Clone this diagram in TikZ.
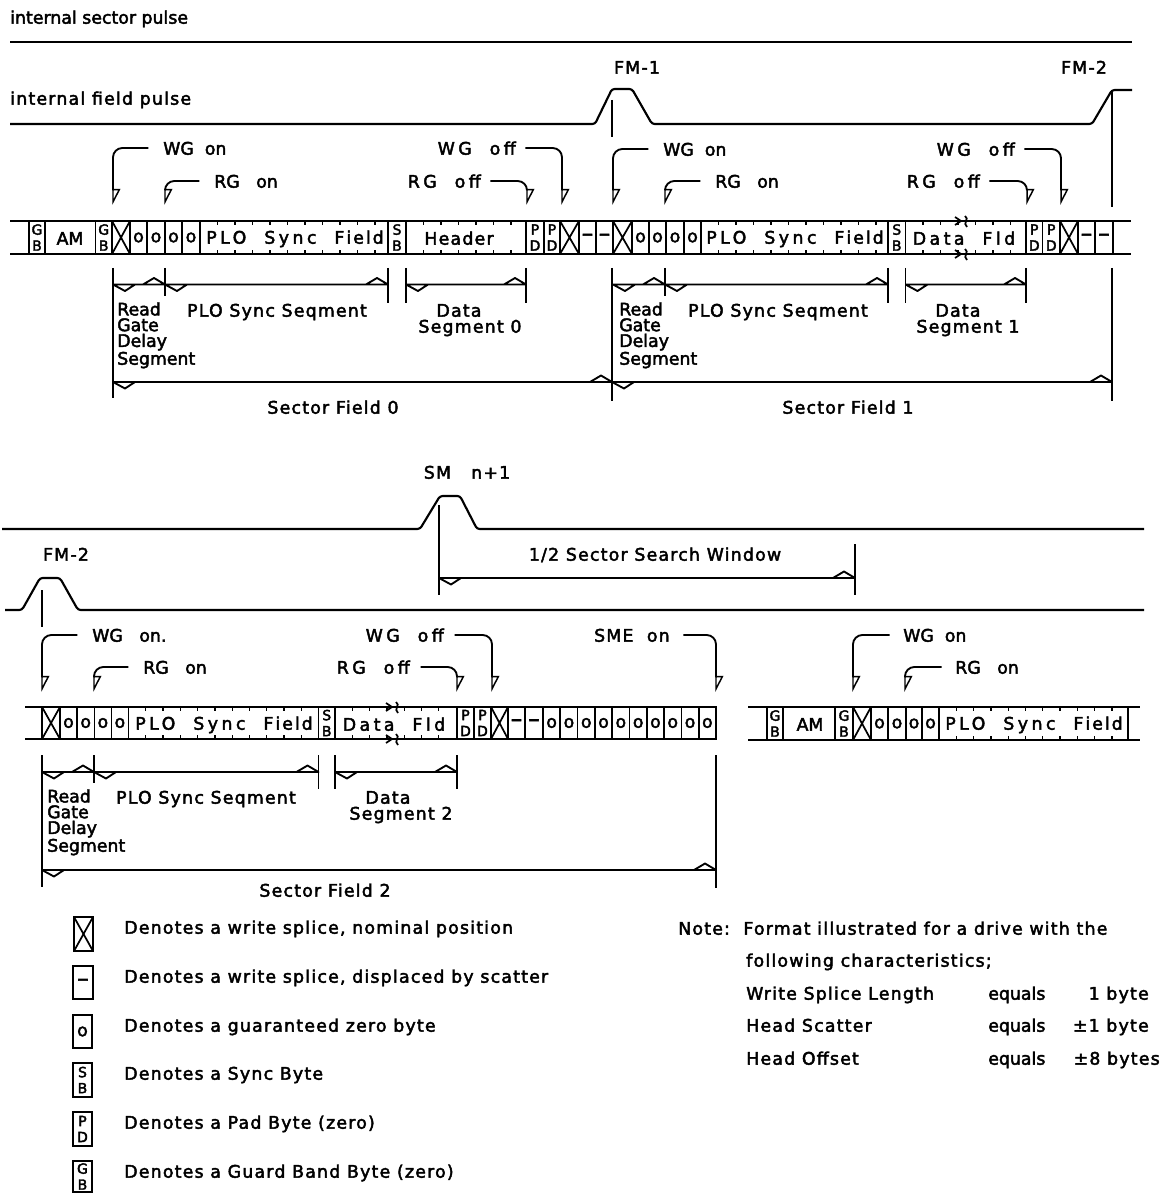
\documentclass[tikz,border=0pt]{standalone}
\usepackage{fontspec}
\setmainfont[FakeBold=2.5]{DejaVu Sans}
\newfontfamily\midfont[FakeBold=2.5,LetterSpace=7]{DejaVu Sans}
\newfontfamily\widefont[FakeBold=2.5,LetterSpace=20]{DejaVu Sans}
\usetikzlibrary{arrows.meta, positioning}

\newcommand{\stk}[2]{{\fontsize{10.5}{12}\selectfont #1}\\{\fontsize{10.5}{12}\selectfont #2}}
\newcommand{\dsh}{{\fontsize{17}{12}\selectfont --}}
\newcommand{\plotext}{PLO~~Sync~~F\kern1.5pt i\kern1.5pt e\kern1.5pt l\kern1.5pt d}
% row of byte cells: name, top, bottom, list
\newcommand{\stripcells}[4]{
    \foreach \ca/\cb/\ct [count=\n] in {#4} {
        \draw[cellline] (\ca,#2) rectangle (\cb,#3);
        \node[celltext] (#1c\n) at ({(\ca+\cb)/2},{(#2+#3)/2}) {\ct};
    }
}
% write splice cells
\newcommand{\splicecells}[3]{
    \foreach \ca/\cb in {#3} {
        \draw[cellline] (\ca,#1) rectangle (\cb,#2) (\ca,#1) -- (\cb,#2) (\cb,#1) -- (\ca,#2);
    }
}
% byte ticks inside a long field
\newcommand{\fieldticks}[5]{
    \foreach \n in {1,...,#5} {
        \draw[tickline] ({#1+\n*#2},#3) -- ++(0,4) ({#1+\n*#2},#4) -- ++(0,-4);
    }
}
% segment line with half heads
\newcommand{\dimline}[3]{
    \coordinate (dima) at (#1,#3);
    \coordinate (dimb) at (#2,#3);
    \draw[segline, line join=round] (dima) -- ++(12,6.5) -- ++(10,-6.5) (dima) -- (dimb) -- ++(-11,-6.5) -- ++(-11,6.5);
}
% break in a long field
\newcommand{\fldbreak}[2]{
    \draw[cellline] (#1-6,#2-4) -- (#1,#2) -- (#1-6,#2+4)
        (#1+4,#2-5) .. controls (#1+9,#2-2) and (#1+1,#2+2) .. (#1+6,#2+6);
}

\tikzset{
    mainline/.style={line width=1.6pt},
    cellline/.style={line width=1.3pt},
    tickline/.style={line width=1pt},
    segline/.style={line width=1.4pt},
    pointer/.style={line width=1.4pt, rounded corners=7pt, -{Triangle[open, left, length=11pt, width=11pt, line width=1.1pt]}},
    lbl/.style={inner sep=0pt, text height=11.5pt, text depth=1.5pt, font=\fontsize{13}{13}\selectfont},
    midlbl/.style={lbl, font=\midfont\fontsize{13}{13}\selectfont},
    widelbl/.style={lbl, font=\widefont\fontsize{13}{13}\selectfont},
    stack/.style={inner sep=0pt, align=left, anchor=north west, font=\fontsize{13}{11.8}\selectfont},
    celltext/.style={inner sep=0pt, align=center, font=\fontsize{13}{12}\selectfont}
}

\begin{document}
\begin{tikzpicture}[x=0.75pt, y=-0.75pt]
    \useasboundingbox (0,0) rectangle (1162,1194);

    % Upper pulses
    \node[lbl, anchor=west] (sectorpulse) at (10,17) {internal sector pulse};
    \draw[mainline] (10,42) -- (1132,42);
    \node[midlbl, anchor=west] (fieldpulse) at (10,98) {internal field pulse};
    \node[midlbl] (fm1) at (637,67) {FM-1};
    \node[midlbl] (fm2) at (1084,67) {FM-2};
    \draw[mainline, rounded corners=2pt] (10,124) -- (595,124) -- (612,89) -- (632,89) -- (652,124) -- (1092,124) -- (1112,90) -- (1132,90);
    \draw[cellline] (612,100) -- (612,137);
    \draw[cellline] (1112,90) -- (1112,207);

    % Gate labels, first row
    \node[lbl, anchor=west] (wgon0) at (163,148) {WG~~on};
    \node[lbl, anchor=west] (rgon0) at (214,181) {RG~~~on};
    \node[widelbl, anchor=east] (wgoff0) at (516,148) {WG~~off};
    \node[widelbl, anchor=east] (rgoff0) at (481,181) {RG~~off};
    \node[lbl, anchor=west] (wgon1) at (663,149) {WG~~on};
    \node[lbl, anchor=west] (rgon1) at (715,181) {RG~~~on};
    \node[widelbl, anchor=east] (wgoff1) at (1015,149) {WG~~off};
    \node[widelbl, anchor=east] (rgoff1) at (980,181) {RG~~off};
    \foreach \tipname/\tipx in {wgont0/113, rgont0/165, rgofft0/527, wgofft0/562, wgont1/613, rgont1/665, rgofft1/1027, wgofft1/1061} {
        \coordinate (\tipname) at (\tipx,205);
    }
    \draw[pointer] ([xshift=-11pt]wgon0.west) -| (wgont0);
    \draw[pointer] ([xshift=-11pt]rgon0.west) -| (rgont0);
    \draw[pointer] ([xshift=7pt]wgoff0.east) -| (wgofft0);
    \draw[pointer] ([xshift=7pt]rgoff0.east) -| (rgofft0);
    \draw[pointer] ([xshift=-11pt]wgon1.west) -| (wgont1);
    \draw[pointer] ([xshift=-11pt]rgon1.west) -| (rgont1);
    \draw[pointer] ([xshift=7pt]wgoff1.east) -| (wgofft1);
    \draw[pointer] ([xshift=7pt]rgoff1.east) -| (rgofft1);

    % First strip
    \draw[mainline] (10,221) -- (29,221) (45,221) -- (95,221) (112,221) -- (1131,221);
    \draw[mainline] (10,254) -- (1131,254);
    \node[lbl] (am0) at (70,238) {AM};
    \stripcells{sa}{221}{254}{29/45/\stk{G}{B}, 95.5/112/\stk{G}{B},
        130/147/o, 147/165/o, 165/182/o, 182/200/o, 388/406/\stk{S}{B},
        526/544/\stk{P}{D}, 544/560/\stk{P}{D}, 579/596/\dsh, 596/613/\dsh,
        632/649/o, 649/666/o, 666/684/o, 684/701/o, 888/905.5/\stk{S}{B},
        1026/1042.5/\stk{P}{D}, 1042.5/1060/\stk{P}{D}, 1078/1095/\dsh, 1095/1113/\dsh}
    \splicecells{221}{254}{112/130, 560/579, 613/632, 1060/1078}
    \draw[cellline] (200,221) -- (200,254) (406,221) -- (406,254) (701,221) -- (701,254) (905.5,221) -- (905.5,254);
    \fieldticks{200}{17.5}{221}{254}{10}
    \fieldticks{406}{17.5}{221}{254}{6}
    \fieldticks{701}{17.5}{221}{254}{10}
    \fieldticks{905.5}{17.5}{221}{254}{6}
    \node[widelbl] (plo0) at (295,237) {\plotext};
    \node[midlbl] (header0) at (459,238) {Header};
    \node[widelbl] (plo1) at (795,237) {\plotext};
    \node[widelbl] (data1) at (964,238) {Data~~Fld};
    \fldbreak{961}{221}
    \fldbreak{961}{254}

    % First segments
    \foreach \x/\ya/\yb in {113/268/398, 165/268/296, 388/268/303, 406/268/303, 526/268/303, 612/268/401,
        665/268/296, 888/268/303, 905.5/268/303, 1026/268/303, 1112/268/401} {
        \draw[segline] (\x,\ya) -- (\x,\yb);
    }
    \dimline{113}{165}{284.5}
    \dimline{165}{388}{284.5}
    \dimline{406}{526}{284.5}
    \dimline{613}{665}{284.5}
    \dimline{665}{888}{284.5}
    \dimline{905.5}{1026}{284.5}
    \dimline{113}{612}{382}
    \dimline{612}{1112}{382}
    \node[stack] (rgd0) at (117,302) {Read\\Gate\\Delay\\Segment};
    \node[midlbl] (ploseg0) at (277,310) {PLO Sync Seqment};
    \node[midlbl] (dataa0) at (459,310) {Data};
    \node[midlbl] (datab0) at (470,326) {Segment 0};
    \node[midlbl] (sector0) at (333,407) {Sector Field 0};
    \node[stack] (rgd1) at (619,302) {Read\\Gate\\Delay\\Segment};
    \node[midlbl] (ploseg1) at (778,310) {PLO Sync Seqment};
    \node[midlbl] (dataa1) at (958,310) {Data};
    \node[midlbl] (datab1) at (968,326) {Segment 1};
    \node[midlbl] (sector1) at (848,407) {Sector Field 1};

    % Lower pulses
    \node[midlbl] (smn) at (467,472) {SM~~~n+1};
    \draw[mainline, rounded corners=2pt] (2,529) -- (420,529) -- (440,496) -- (460,496) -- (477,529) -- (1144,529);
    \draw[cellline] (439,505) -- (439,595);
    \draw[cellline] (855,544) -- (855,595);
    \dimline{439}{855}{578}
    \node[midlbl] (window) at (655,554) {1/2 Sector Search Window};
    \node[midlbl] (fm2b) at (66,554) {FM-2};
    \draw[mainline, rounded corners=2pt] (5,610) -- (22,610) -- (40,578) -- (60,578) -- (78,610) -- (1144,610);
    \draw[cellline] (42,590) -- (42,627);

    % Gate labels, second row
    \node[lbl, anchor=west] (wgon2) at (92,635) {WG~~~on.};
    \node[lbl, anchor=west] (rgon2) at (143,667) {RG~~~on};
    \node[widelbl, anchor=east] (wgoff2) at (444,635) {WG~~off};
    \node[widelbl, anchor=east] (rgoff2) at (410,667) {RG~~off};
    \node[midlbl, anchor=east] (smeon) at (670,635) {SME~~on};
    \node[lbl, anchor=west] (wgon3) at (903,635) {WG~~on};
    \node[lbl, anchor=west] (rgon3) at (955,667) {RG~~~on};
    \foreach \tipname/\tipx in {wgont2/42, rgont2/94, rgofft2/457, wgofft2/492, smet/716, wgont3/853, rgont3/905} {
        \coordinate (\tipname) at (\tipx,692);
    }
    \draw[pointer] ([xshift=-11pt]wgon2.west) -| (wgont2);
    \draw[pointer] ([xshift=-11pt]rgon2.west) -| (rgont2);
    \draw[pointer] ([xshift=8pt]wgoff2.east) -| (wgofft2);
    \draw[pointer] ([xshift=8pt]rgoff2.east) -| (rgofft2);
    \draw[pointer] ([xshift=10pt]smeon.east) -| (smet);
    \draw[pointer] ([xshift=-10pt]wgon3.west) -| (wgont3);
    \draw[pointer] ([xshift=-10pt]rgon3.west) -| (rgont3);

    % Second strip
    \draw[mainline] (25,707) -- (716,707) (25,739) -- (716,739);
    \stripcells{sb}{707}{739}{60/77/o, 77/94.4/o, 94.4/111.4/o, 111.4/128.4/o, 318.5/335/\stk{S}{B},
        457/474/\stk{P}{D}, 474/491/\stk{P}{D}, 508/525/\dsh, 525/543/\dsh,
        543/560.3/o, 560.3/577.6/o, 577.6/594.9/o, 594.9/612.2/o, 612.2/629.5/o,
        629.5/646.8/o, 646.8/664.1/o, 664.1/681.4/o, 681.4/698.7/o, 698.7/716/o}
    \splicecells{707}{739}{42/60, 491/508}
    \draw[cellline] (128.4,707) -- (128.4,739) (335,707) -- (335,739);
    \fieldticks{128.4}{17.3}{707}{739}{10}
    \fieldticks{335}{17.3}{707}{739}{6}
    \node[widelbl] (plo2) at (224,723) {\plotext};
    \node[widelbl] (data2) at (394,724) {Data~~Fld};
    \fldbreak{392}{707}
    \fldbreak{392}{739}

    % Third strip
    \draw[mainline] (748,707) -- (1140,707) (748,740) -- (1140,740);
    \node[lbl] (am3) at (810,724) {AM};
    \stripcells{sc}{707}{740}{767/783/\stk{G}{B}, 835/853/\stk{G}{B},
        871/888/o, 888/906/o, 906/922/o, 922/939/o}
    \splicecells{707}{740}{853/871}
    \draw[cellline] (939,707) -- (939,740) (1128,707) -- (1128,740);
    \fieldticks{939}{17.3}{707}{740}{10}
    \node[widelbl] (plo3) at (1034,723) {\plotext};

    % Second segments
    \foreach \x/\ya/\yb in {42/755/887, 94/755/783, 318.5/755/789, 335/755/789, 457/755/789, 716/755/888} {
        \draw[segline] (\x,\ya) -- (\x,\yb);
    }
    \dimline{42}{94}{772}
    \dimline{94}{318.5}{772}
    \dimline{335}{457}{772}
    \dimline{42}{716}{870}
    \node[stack] (rgd2) at (47,789) {Read\\Gate\\Delay\\Segment};
    \node[midlbl] (ploseg2) at (206,797) {PLO Sync Seqment};
    \node[midlbl] (dataa2) at (388,797) {Data};
    \node[midlbl] (datab2) at (401,813) {Segment 2};
    \node[midlbl] (sector2) at (325,890) {Sector Field 2};

    % Legend
    \splicecells{917}{951}{74/93}
    \stripcells{la}{966}{999}{73/93/\dsh}
    \stripcells{lb}{1015}{1048}{73/92/o}
    \stripcells{lc}{1063}{1097}{73/92/\stk{S}{B}}
    \stripcells{ld}{1112}{1146}{73/92/\stk{P}{D}}
    \stripcells{le}{1161}{1192}{73/92/\stk{G}{B}}
    \foreach \ly/\lt [count=\n] in {927/{Denotes a write splice, nominal position},
        976/{Denotes a write splice, displaced by scatter},
        1025/{Denotes a guaranteed zero byte},
        1073/{Denotes a Sync Byte},
        1122/{Denotes a Pad Byte (zero)},
        1171/{Denotes a Guard Band Byte (zero)}} {
        \node[midlbl, anchor=west] (legend\n) at (124,\ly) {\lt};
    }

    % Note
    \node[midlbl, anchor=west] (note) at (678,928) {Note:~~Format illustrated for a drive with the};
    \node[midlbl, anchor=west] (chars) at (746,960) {following characteristics;};
    \foreach \ly/\la/\lb/\lx [count=\n] in {993/Write Splice Length/1 byte/1149, 1025/Head Scatter/±1 byte/1149, 1058/Head Offset/±8 bytes/1160} {
        \node[midlbl, anchor=west] (charname\n) at (746,\ly) {\la};
        \node[lbl, anchor=west] (chareq\n) at (988,\ly) {equals};
        \node[midlbl, anchor=east] (charval\n) at (\lx,\ly) {\lb};
    }
\end{tikzpicture}
\end{document}
